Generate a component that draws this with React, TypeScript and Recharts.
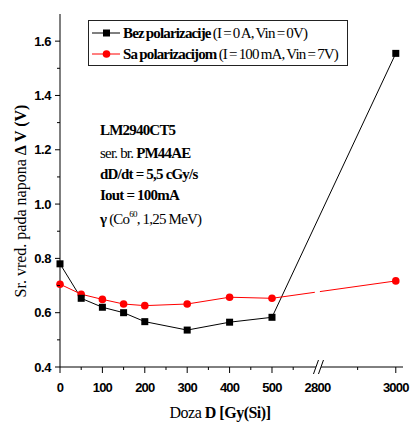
import { ComposedChart, Line, XAxis, YAxis, ReferenceArea, Legend } from 'recharts'

const doses = [0, 50, 100, 150, 200, 300, 400, 500, 3000]
const bezPolarizacije = [0.78, 0.653, 0.62, 0.6, 0.567, 0.536, 0.565, 0.583, 1.555]
const saPolarizacijom = [0.705, 0.668, 0.649, 0.632, 0.626, 0.632, 0.657, 0.653, 0.717]

const majorDoses = [0, 100, 200, 300, 400, 500, 2800, 3000]
const minorDoses = [50, 150, 250, 350, 450, 550, 2900]
const yTicks = [0.4, 0.5, 0.6, 0.7, 0.8, 0.9, 1.0, 1.1, 1.2, 1.3, 1.4, 1.5, 1.6]
const yLabels = ['0.4', '0.6', '0.8', '1.0', '1.2', '1.4', '1.6']

const seriesNames = ['Bez polarizacije', 'Sa polarizacijom']
const seriesNotes = ['(I = 0 A, Vin = 0V)', '(I = 100 mA, Vin = 7V)']

// broken x axis: 0..600 linear, then jumps to 2800
const BREAK_DOSE = 2800
const BREAK_POS = 612
const brk = (d: number) => (d < 1000 ? d : BREAK_POS + (d - BREAK_DOSE) * 0.9)

const data = doses.map((d, i) => ({ t: brk(d), bez: bezPolarizacije[i], sa: saPolarizacijom[i] }))
const xTicks = [...majorDoses, ...minorDoses].map(brk).sort((a, b) => a - b)

const SANS = '"Liberation Sans", Arial, sans-serif'
const SERIF = '"Liberation Serif", "Times New Roman", serif'

function DoseTick({ x, y, payload }: any) {
  const t = payload.value
  const major = majorDoses.find((d) => brk(d) === t)
  if (major === BREAK_DOSE) {
    return (
      <g>
        <polygon points={`${x - 6},${y + 7} ${x - 1},${y - 7} ${x + 4},${y - 7} ${x - 1},${y + 7}`} fill="#fff" />
        <line x1={x - 6} y1={y + 7} x2={x - 1} y2={y - 7} stroke="#000" />
        <line x1={x - 1} y1={y + 7} x2={x + 4} y2={y - 7} stroke="#000" />
        <text x={x - 2} y={y + 25} textAnchor="middle" fontFamily={SANS} fontWeight="bold" fontSize={13} letterSpacing={-0.8}>
          {major}
        </text>
      </g>
    )
  }
  return (
    <g>
      <line x1={x} y1={y} x2={x} y2={y + (major !== undefined ? 6 : 3)} stroke="#000" />
      {major !== undefined && (
        <text x={x} y={y + 25} textAnchor="middle" fontFamily={SANS} fontWeight="bold" fontSize={13} letterSpacing={-0.8}>
          {major}
        </text>
      )}
    </g>
  )
}

function ValueTick({ x, y, payload }: any) {
  const v = payload.value as number
  const label = yLabels.find((l) => Math.abs(Number(l) - v) < 1e-6)
  return (
    <g>
      <line x1={x - (label ? 5 : 3)} y1={y} x2={x} y2={y} stroke="#000" />
      {label && (
        <text x={x - 9} y={y + 4.5} textAnchor="end" fontFamily={SANS} fontWeight="bold" fontSize={13} letterSpacing={-0.4}>
          {label}
        </text>
      )}
    </g>
  )
}

function LegendBox() {
  const colors = ['#000', '#ff0000']
  return (
    <div style={{ border: '1.3px solid #222', width: 260, height: 46, boxSizing: 'border-box', background: '#fff' }}>
      <svg width={257} height={43}>
        {seriesNames.map((name, i) => {
          const cy = 12 + i * 21
          return (
            <g key={name}>
              <line x1={3} x2={31} y1={cy} y2={cy} stroke={colors[i]} />
              {i === 0 ? (
                <rect x={14} y={cy - 3.5} width={7} height={7} fill="#000" />
              ) : (
                <circle cx={17.5} cy={cy} r={3.8} fill="#ff0000" />
              )}
              <text x={34} y={cy + 5} fontFamily={SERIF} fontSize={15} letterSpacing={-0.85} wordSpacing={-0.8}>
                <tspan fontWeight="bold">{name}</tspan> <tspan>{seriesNotes[i]}</tspan>
              </text>
            </g>
          )
        })}
      </svg>
    </div>
  )
}

export default function App() {
  return (
    <div style={{ position: 'absolute', left: 0, top: 0, width: 412, height: 423 }}>
      <ComposedChart width={412} height={423} data={data} margin={{ top: 14, right: 9, bottom: 16, left: 20 }}>
        <XAxis
          dataKey="t"
          type="number"
          domain={[0, 809]}
          ticks={xTicks}
          interval={0}
          tick={<DoseTick />}
          tickLine={false}
          tickSize={0}
          tickMargin={0}
          height={40}
          axisLine={{ stroke: '#000' }}
        />
        <YAxis
          type="number"
          domain={[0.4, 1.7]}
          ticks={yTicks}
          interval={0}
          tick={<ValueTick />}
          tickLine={false}
          tickSize={0}
          tickMargin={0}
          width={40}
          axisLine={{ stroke: '#000' }}
        />
        <Legend
          layout="horizontal"
          verticalAlign="middle"
          align="center"
          content={<LegendBox />}
          wrapperStyle={{ left: 88, top: 20, width: 'auto', height: 'auto' }}
        />
        <Line dataKey="bez" stroke="#000" strokeWidth={1} dot={false} isAnimationActive={false} activeDot={false} />
        <Line
          dataKey="sa"
          stroke="#ff0000"
          strokeWidth={1}
          isAnimationActive={false}
          activeDot={false}
          dot={(p: any) => <circle key={p.index} cx={p.cx} cy={p.cy} r={3.8} fill="#ff0000" />}
        />
        <ReferenceArea x1={601} x2={613} y1={0.665} y2={0.69} fill="#fff" fillOpacity={1} stroke="none" zIndex={1000} />
        <Line
          dataKey="bez"
          stroke="none"
          isAnimationActive={false}
          activeDot={false}
          legendType="none"
          dot={(p: any) => <rect key={p.index} x={p.cx - 3.5} y={p.cy - 3.5} width={7} height={7} fill="#000" />}
        />
      </ComposedChart>
      <svg width={412} height={423} style={{ position: 'absolute', left: 0, top: 0, pointerEvents: 'none' }}>
        <g fontFamily={SERIF} fontSize={15} letterSpacing={-0.8}>
          <text x={100} y={135} fontWeight="bold">LM2940CT5</text>
          <text x={100} y={158}>ser. br. <tspan fontWeight="bold">PM44AE</tspan></text>
          <text x={100} y={179} fontWeight="bold">dD/dt = 5,5 cGy/s</text>
          <text x={100} y={200} fontWeight="bold">Iout = 100mA</text>
          <text x={100} y={224}>
            <tspan fontWeight="bold">γ</tspan> (Co<tspan fontSize={9} dy={-7}>60</tspan><tspan dy={7}>, 1,25 MeV)</tspan>
          </text>
        </g>
        <text
          transform="translate(26,201) rotate(-90)"
          textAnchor="middle"
          fontFamily={SERIF}
          fontSize={16}
        >
          Sr. vred. pada napona  <tspan fontWeight="bold">Δ V (V)</tspan>
        </text>
        <text x={220} y={418} textAnchor="middle" fontFamily={SERIF} fontSize={16} letterSpacing={-0.5}>
          Doza <tspan fontWeight="bold">D [Gy(Si)]</tspan>
        </text>
      </svg>
    </div>
  )
}
